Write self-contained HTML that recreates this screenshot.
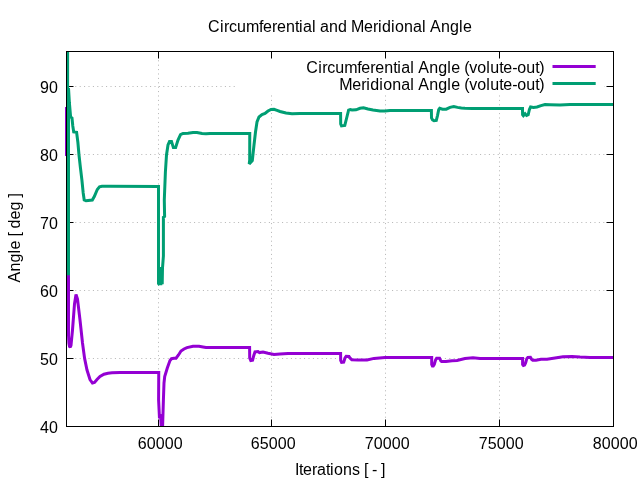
<!DOCTYPE html>
<html><head><meta charset="utf-8"><title>Circumferential and Meridional Angle</title>
<style>html,body{margin:0;padding:0;background:#fff}svg{display:block}</style></head>
<body>
<svg width="640" height="480" viewBox="0 0 640 480">
<rect width="640" height="480" fill="#fff"/>
<g stroke="#b4b4b4" stroke-width="1" stroke-dasharray="1 3.4" fill="none">
<path d="M66.5 358.5H613.5"/>
<path d="M66.5 290.5H613.5"/>
<path d="M66.5 222.5H613.5"/>
<path d="M66.5 154.5H613.5"/>
<path d="M66.5 86.5H613.5"/>
<path d="M158.5 426.5V51.5"/>
<path d="M271.5 426.5V51.5"/>
<path d="M385.5 426.5V51.5"/>
<path d="M499.5 426.5V51.5"/>
</g>
<rect x="235" y="52" width="369" height="42.5" fill="#fff"/>
<g stroke="#000" stroke-width="1" fill="none">
<path d="M66.5 426.5h7M613.5 426.5h-7"/>
<path d="M66.5 358.5h7M613.5 358.5h-7"/>
<path d="M66.5 290.5h7M613.5 290.5h-7"/>
<path d="M66.5 222.5h7M613.5 222.5h-7"/>
<path d="M66.5 154.5h7M613.5 154.5h-7"/>
<path d="M66.5 86.5h7M613.5 86.5h-7"/>
<path d="M158.5 426.5v-7M158.5 51.5v7"/>
<path d="M271.5 426.5v-7M271.5 51.5v7"/>
<path d="M385.5 426.5v-7M385.5 51.5v7"/>
<path d="M499.5 426.5v-7M499.5 51.5v7"/>
<path d="M613.5 426.5v-7M613.5 51.5v7"/>
</g>
<g fill="none" stroke-width="3" stroke-linejoin="miter" stroke-miterlimit="1.6">
<polyline stroke="#9400d3" points="66.5,107 66.5,154.5 67.6,154.5 67.6,200 68.5,276 68.5,335 68.9,343 69.5,346.5 70.3,347.2 71,345.5 72.5,330 74.5,304 76,294.6 77.5,299 80,320 82.5,343 84.6,358.4 87,370 90,379.5 92.5,383 94.5,382.5 97,379.5 100,376.5 104,374.2 108,373.2 112,372.8 120,372.6 158.75,372.4 158.6,400 159.5,418.5 160.4,414 161.3,426.5"/>
<polyline stroke="#9400d3" points="162.6,426.5 163.4,400 164.0,383 164.7,376.5 167.3,368 170,360.6 171.5,358.7 174,358.3 176,358.2 178.5,355 181,351 184,349 187,347.6 193,346.2 199,346.3 203,347 206,347.5 212,347.5 249.6,347.5 249.7,358 250.8,360.5 252.6,360.2 253.8,355.5 255,351.8 258,351.5 259.5,352.6 263,352 268,353.2 274,354.5 280,354 288,353.5 340.6,353.5 340.7,360.5 341.6,362.4 343.7,362.2 345,358 346.2,356.3 349,356.4 350.4,358.5 351.8,359.7 358,360 367,360 374,358.4 385,357.5 390,357.5 431.7,357.5 431.7,364.5 432.8,366.8 434.3,364.5 435.6,359.8 436.6,358.3 439.6,358.2 440.8,360.8 441.6,361.5 446,361.5 452,360.7 457,360.5 465,358.6 473,357.8 480,358.4 522.6,358.5 522.6,364.4 523.4,365.4 524.6,365 525.6,363 526.8,358.6 527.8,357.4 530.4,357.3 531.7,359.4 532.8,360.3 536,360.3 541,359.3 547,359.3 555,358 563,356.8 572,356.5 580,357 590,357.4 613.5,357.5"/>
<path stroke="#9400d3" d="M552.5 66.6H595.7"/>
<polyline stroke="#009e73" points="67.6,51.5 67.6,200 68.5,275.3 68.5,88 69.4,103 70.6,117 72,118 72.8,126 73.7,132 76.6,132.3 77.9,142.5 79,155 80.4,167.5 81.9,180 83.2,193 84.2,200 86,200.8 92.3,200 94.3,196.5 97.3,189.5 99.5,186.8 102,186.2 110,186.2 158.5,186.5 158.5,283.5 159.5,284.8 160,268 160.8,285.2 161.4,267 162.2,284.2 162.5,268 163.4,256 163.4,217.3 164.6,216.5 164.3,200 165.4,172 166.5,155 168,145 169.5,141.6 171.5,141.6 173.4,147.6 175.6,147.6 178,140 180.5,134.6 183,133.5 188,133.3 193,132.5 197,132.5 202,133.5 206,133.8 210,133.5 249.75,133.5 249.7,160 249.2,164 252.3,160.5 254,145 255.5,132 257,122 259,117 262,114.6 265,113.5 268,111 271,109.4 274,109.3 277,110.4 280,111.5 286,113 292,113.8 300,113.4 340.6,113.5 340.7,124 341.5,125.8 344.8,125.4 346.9,117 348.6,110.2 350.3,109.6 352,110 356,109.8 360,108.3 363.5,107.8 368,109 373,110 380,111 385,111 390,110.5 431.4,110.4 431.5,117.8 432.6,120 434,120.7 436.3,120.4 437.5,115.6 438.7,109.6 439.7,108.3 442.5,109.2 446.2,109.2 450,107.4 453.8,106.5 457.5,107.4 461.3,108 465,108.2 472,108.4 480,108.4 522.5,108.45 522.6,114.6 523.4,115.6 525.1,113.8 526.6,115.5 528.2,114.8 529.4,109.5 530.6,106.9 533.5,107.4 537,107 541,105.6 545,104.5 550,104.7 560,105 570,104.6 583,104.5 613.5,104.5"/>
<path stroke="#009e73" d="M552.5 83.5H595.7"/>
</g>
<rect x="66.5" y="51.5" width="547.0" height="375.0" fill="none" stroke="#000" stroke-width="1"/>
<g font-family="'Liberation Sans', Arial, sans-serif" font-size="16" fill="#000">
<text x="208 220 224 229 237 246 259 263 272 277 286 295 299 303 312 316 320 329 338 347 351 364 373 378 382 391 395 404 413 422 426 430 441 450 459 463" y="31.5">Circumferential and Meridional Angle</text>
<text x="40 49" y="432.6">40</text>
<text x="40 49" y="364.6">50</text>
<text x="40 49" y="296.6">60</text>
<text x="40 49" y="228.6">70</text>
<text x="40 49" y="160.6">80</text>
<text x="40 49" y="92.6">90</text>
<text x="137.7 146.7 155.7 164.7 173.7" y="448.7">60000</text>
<text x="250.7 259.7 268.7 277.7 286.7" y="448.7">65000</text>
<text x="364.7 373.7 382.7 391.7 400.7" y="448.7">70000</text>
<text x="478.7 487.7 496.7 505.7 514.7" y="448.7">75000</text>
<text x="592.7 601.7 610.7 619.7 628.7" y="448.7">80000</text>
<text x="295 299 303 312 317 326 330 334 343 352 360 364 368 372 377 381" y="474.5">Iterations [ - ]</text>
<text transform="translate(20,282.5) rotate(-90)" x="0 11 20 29 33 42 46 50 54 63 72 81 85" y="0">Angle [ deg ]</text>
<text x="306.3 318.3 322.3 327.3 335.3 344.3 357.3 361.3 370.3 375.3 384.3 393.3 397.3 401.3 410.3 414.3 418.3 429.3 438.3 447.3 451.3 460.3 464.3 469.3 477.3 486.3 490.3 499.3 503.3 512.3 517.3 526.3 535.3 539.3" y="73">Circumferential Angle (volute-out)</text>
<text x="339.3 352.3 361.3 366.3 370.3 379.3 383.3 392.3 401.3 410.3 414.3 418.3 429.3 438.3 447.3 451.3 460.3 464.3 469.3 477.3 486.3 490.3 499.3 503.3 512.3 517.3 526.3 535.3 539.3" y="90">Meridional Angle (volute-out)</text>
</g>
</svg>
</body></html>
